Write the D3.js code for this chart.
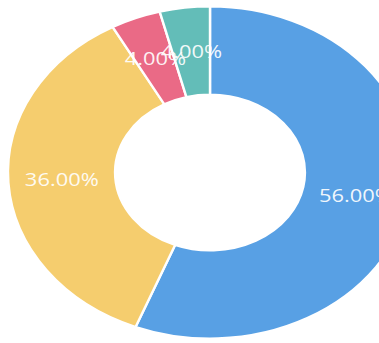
<!DOCTYPE html>
<html>
<head>
<meta charset="utf-8">
<script src="https://cdn.jsdelivr.net/npm/d3@7"></script>
<style>
  body { margin: 0; background: #fff; }
  svg { display: block; }
</style>
</head>
<body>
<svg id="chart" width="379" height="343"></svg>
<script>
// slices clockwise from 12 o'clock
var labels = ["A", "B", "C", "D"];
var values = [56, 36, 4, 4];
var colors = ["#58a0e4", "#f5cd6e", "#ea6a86", "#63bdb8"];

var svg = d3.select("#chart");
// the reference donut is stretched sideways, so scale the group in x
var g = svg.append("g")
    .attr("transform", "translate(210,172.5) scale(1.217,1)");

var outer = 166, inner = 78;
var total = d3.sum(values);

var pie = d3.pie().sort(null).value(function (d) { return d; });
var arc = d3.arc().innerRadius(inner).outerRadius(outer);
var labelArc = d3.arc().innerRadius((inner + outer) / 2).outerRadius((inner + outer) / 2);

var arcs = pie(values);

g.selectAll("path")
    .data(arcs)
    .enter()
    .append("path")
    .attr("d", arc)
    .attr("fill", function (d, i) { return colors[i]; })
    .attr("stroke", "#fff")
    .attr("stroke-width", 2);

g.selectAll("text")
    .data(arcs)
    .enter()
    .append("text")
    .attr("transform", function (d) {
        var c = labelArc.centroid(d);
        return "translate(" + c[0] + "," + c[1] + ")";
    })
    .attr("text-anchor", "middle")
    .attr("dy", "0.35em")
    .attr("fill", "#fff")
    .attr("fill-opacity", 0.92)
    .style("font-family", "'Open Sans', sans-serif")
    .style("font-size", "18px")
    .text(function (d) { return (d.data / total * 100).toFixed(2) + "%"; });
</script>
</body>
</html>
